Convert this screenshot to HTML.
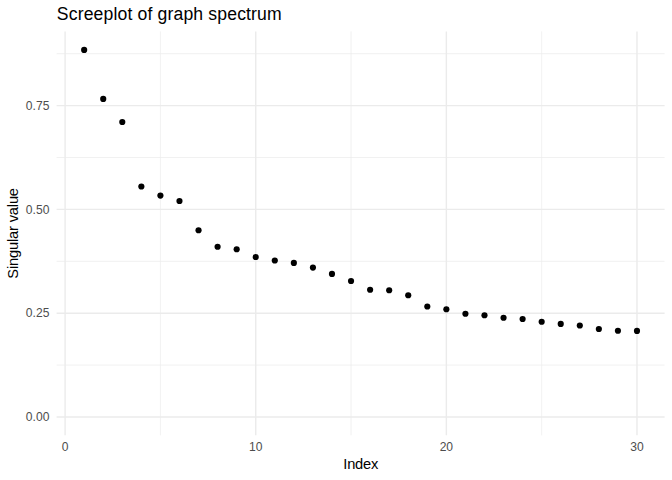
<!DOCTYPE html>
<html><head><meta charset="utf-8"><title>Screeplot</title>
<style>html,body{margin:0;padding:0;background:#fff;}svg{display:block;}text{font-family:"Liberation Sans",sans-serif;}</style></head>
<body>
<svg width="672" height="480" viewBox="0 0 672 480">
<rect width="672" height="480" fill="#ffffff"/>
<g stroke="#EBEBEB" fill="none" stroke-linecap="butt">
<line x1="56.6" x2="664.6" y1="365.10" y2="365.10" stroke-width="0.71"/>
<line x1="56.6" x2="664.6" y1="261.30" y2="261.30" stroke-width="0.71"/>
<line x1="56.6" x2="664.6" y1="157.50" y2="157.50" stroke-width="0.71"/>
<line x1="56.6" x2="664.6" y1="53.70" y2="53.70" stroke-width="0.71"/>
<line y1="31.4" y2="435.3" x1="160.41" x2="160.41" stroke-width="0.71"/>
<line y1="31.4" y2="435.3" x1="351.04" x2="351.04" stroke-width="0.71"/>
<line y1="31.4" y2="435.3" x1="541.67" x2="541.67" stroke-width="0.71"/>
<line x1="56.6" x2="664.6" y1="417.00" y2="417.00" stroke-width="1.42"/>
<line x1="56.6" x2="664.6" y1="313.20" y2="313.20" stroke-width="1.42"/>
<line x1="56.6" x2="664.6" y1="209.40" y2="209.40" stroke-width="1.42"/>
<line x1="56.6" x2="664.6" y1="105.60" y2="105.60" stroke-width="1.42"/>
<line y1="31.4" y2="435.3" x1="65.10" x2="65.10" stroke-width="1.42"/>
<line y1="31.4" y2="435.3" x1="255.73" x2="255.73" stroke-width="1.42"/>
<line y1="31.4" y2="435.3" x1="446.36" x2="446.36" stroke-width="1.42"/>
<line y1="31.4" y2="435.3" x1="636.99" x2="636.99" stroke-width="1.42"/>
</g>
<g fill="#000000">
<circle cx="84.16" cy="49.90" r="3.08"/>
<circle cx="103.23" cy="98.90" r="3.08"/>
<circle cx="122.29" cy="122.00" r="3.08"/>
<circle cx="141.35" cy="186.50" r="3.08"/>
<circle cx="160.41" cy="195.60" r="3.08"/>
<circle cx="179.48" cy="201.00" r="3.08"/>
<circle cx="198.54" cy="230.25" r="3.08"/>
<circle cx="217.60" cy="246.75" r="3.08"/>
<circle cx="236.67" cy="249.25" r="3.08"/>
<circle cx="255.73" cy="257.00" r="3.08"/>
<circle cx="274.79" cy="260.50" r="3.08"/>
<circle cx="293.86" cy="262.90" r="3.08"/>
<circle cx="312.92" cy="267.60" r="3.08"/>
<circle cx="331.98" cy="273.90" r="3.08"/>
<circle cx="351.04" cy="281.00" r="3.08"/>
<circle cx="370.11" cy="289.75" r="3.08"/>
<circle cx="389.17" cy="290.25" r="3.08"/>
<circle cx="408.23" cy="295.25" r="3.08"/>
<circle cx="427.30" cy="306.50" r="3.08"/>
<circle cx="446.36" cy="309.25" r="3.08"/>
<circle cx="465.42" cy="313.75" r="3.08"/>
<circle cx="484.49" cy="315.25" r="3.08"/>
<circle cx="503.55" cy="317.75" r="3.08"/>
<circle cx="522.61" cy="319.00" r="3.08"/>
<circle cx="541.67" cy="321.75" r="3.08"/>
<circle cx="560.74" cy="323.90" r="3.08"/>
<circle cx="579.80" cy="325.50" r="3.08"/>
<circle cx="598.86" cy="329.00" r="3.08"/>
<circle cx="617.93" cy="330.75" r="3.08"/>
<circle cx="636.99" cy="330.90" r="3.08"/>
</g>
<g fill="#4D4D4D" font-size="12.3px">
<text transform="translate(49.4,421.20) scale(0.985,1)" text-anchor="end">0.00</text>
<text transform="translate(49.4,317.40) scale(0.985,1)" text-anchor="end">0.25</text>
<text transform="translate(49.4,213.60) scale(0.985,1)" text-anchor="end">0.50</text>
<text transform="translate(49.4,109.80) scale(0.985,1)" text-anchor="end">0.75</text>
<text transform="translate(65.10,450.6) scale(0.985,1)" text-anchor="middle">0</text>
<text transform="translate(255.73,450.6) scale(0.985,1)" text-anchor="middle">10</text>
<text transform="translate(446.36,450.6) scale(0.985,1)" text-anchor="middle">20</text>
<text transform="translate(636.99,450.6) scale(0.985,1)" text-anchor="middle">30</text>
</g>
<text x="56.8" y="19.5" font-size="17.6px" fill="#000" letter-spacing="0.15">Screeplot of graph spectrum</text>
<text x="360.7" y="468.5" font-size="14.67px" fill="#000" text-anchor="middle" letter-spacing="-0.2">Index</text>
<text transform="translate(17.9,233.4) rotate(-90)" font-size="14.67px" fill="#000" text-anchor="middle" letter-spacing="-0.17">Singular value</text>
</svg>
</body></html>
